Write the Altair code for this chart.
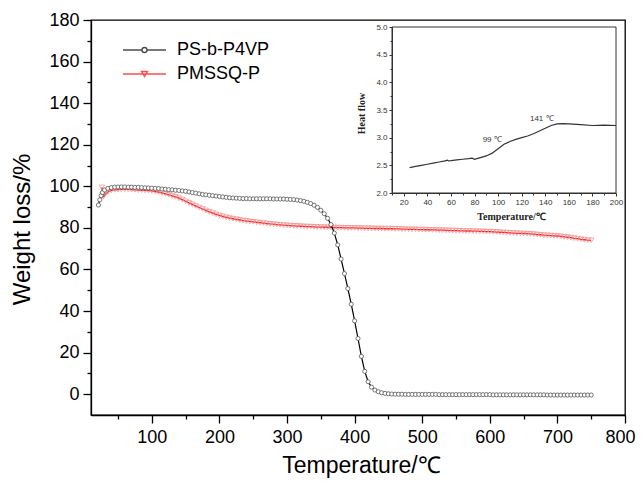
import altair as alt
import pandas as pd

SANS = "Liberation Sans"
SERIF = "Liberation Serif"

series_names = ["PS-b-P4VP", "PMSSQ-P"]
series_colors = ["#000000", "#ff0000"]

# ---- TGA: PS-b-P4VP ----
ps_temp = [21, 23, 25, 27, 30, 35, 40, 45, 50, 55, 60, 65, 70, 75, 80, 85, 90, 95, 100,
           105, 110, 115, 120, 125, 130, 135, 140, 145, 150, 155, 160, 165, 170, 175, 180,
           185, 190, 195, 200, 205, 210, 215, 220, 225, 230, 235, 240, 245, 250, 255, 260,
           265, 270, 275, 280, 285, 290, 295, 300, 305, 310, 315, 320, 325, 330, 335, 340,
           345, 350, 355, 360, 365, 370, 375, 380, 385, 390, 395, 400, 405, 410, 415, 420,
           425, 430, 435, 440, 445, 450, 455, 460, 465, 470, 475, 480, 485, 490, 495, 500,
           505, 510, 515, 520, 525, 530, 535, 540, 545, 550, 555, 560, 565, 570, 575, 580,
           585, 590, 595, 600, 605, 610, 615, 620, 625, 630, 635, 640, 645, 650, 655, 660,
           665, 670, 675, 680, 685, 690, 695, 700, 705, 710, 715, 720, 725, 730, 735, 740,
           745, 750]
ps_weight = [91.0, 93.5, 95.5, 97.0, 98.2, 99.0, 99.4, 99.6, 99.7, 99.7, 99.7, 99.6, 99.6,
             99.5, 99.5, 99.4, 99.3, 99.2, 99.1,
             99.0, 98.9, 98.7, 98.6, 98.4, 98.3, 98.1, 98.0, 97.8, 97.6, 97.3, 97.0, 96.7,
             96.4, 96.1, 95.9,
             95.7, 95.5, 95.3, 95.1, 94.9, 94.7, 94.5, 94.4, 94.3, 94.2, 94.1, 94.1, 94.0,
             94.0, 94.0, 94.0,
             94.0, 94.0, 94.0, 93.9, 93.9, 93.9, 93.9, 93.8, 93.7, 93.6, 93.4, 93.1, 92.8,
             92.3, 91.7, 90.9,
             89.9, 88.5, 86.8, 84.6, 81.6, 77.5, 71.8, 65.0, 58.0, 50.8, 43.3, 35.3, 26.8,
             18.2, 11.0, 6.0,
             3.4, 2.0, 1.2, 0.7, 0.4, 0.2, 0.1, 0.0, 0.0, 0.0, -0.1, -0.1, -0.1, -0.1, -0.1,
             -0.1,
             -0.1, -0.1, -0.1, -0.1, -0.2, -0.2, -0.2, -0.2, -0.2, -0.2, -0.2, -0.2, -0.2,
             -0.2, -0.2, -0.2,
             -0.2, -0.2, -0.2, -0.2, -0.3, -0.3, -0.3, -0.3, -0.3, -0.3, -0.3, -0.3, -0.3,
             -0.3, -0.3, -0.3,
             -0.3, -0.3, -0.3, -0.3, -0.4, -0.4, -0.4, -0.4, -0.4, -0.4, -0.4, -0.4, -0.4,
             -0.4, -0.4, -0.4,
             -0.4, -0.4]

# ---- TGA: PMSSQ-P ----
pm_temp = [26, 27, 28, 30, 35, 40, 45, 50, 55, 60, 65, 70, 75, 80, 85, 90, 95, 100,
           105, 110, 115, 120, 125, 130, 135, 140, 145, 150, 155, 160, 165, 170, 175, 180,
           185, 190, 195, 200, 205, 210, 215, 220, 225, 230, 235, 240, 245, 250, 255, 260,
           265, 270, 275, 280, 285, 290, 295, 300, 305, 310, 315, 320, 325, 330, 335, 340,
           345, 350, 355, 360, 365, 370, 375, 380, 385, 390, 395, 400, 405, 410, 415, 420,
           425, 430, 435, 440, 445, 450, 455, 460, 465, 470, 475, 480, 485, 490, 495, 500,
           505, 510, 515, 520, 525, 530, 535, 540, 545, 550, 555, 560, 565, 570, 575, 580,
           585, 590, 595, 600, 605, 610, 615, 620, 625, 630, 635, 640, 645, 650, 655, 660,
           665, 670, 675, 680, 685, 690, 695, 700, 705, 710, 715, 720, 725, 730, 735, 740,
           745, 750]
pm_weight = [99.5, 96.0, 95.0, 95.8, 97.3, 98.0, 98.3, 98.4, 98.5, 98.5, 98.5, 98.4, 98.3,
             98.2, 98.1, 98.0, 97.9, 97.8,
             97.5, 97.2, 96.8, 96.4, 95.9, 95.4, 94.9, 94.3, 93.6, 92.8, 92.0, 91.3, 90.5,
             89.8, 89.1, 88.4,
             87.7, 87.1, 86.5, 86.0, 85.5, 85.1, 84.7, 84.4, 84.1, 83.8, 83.5, 83.3, 83.1,
             82.9, 82.7, 82.5,
             82.3, 82.1, 81.9, 81.8, 81.6, 81.5, 81.3, 81.2, 81.1, 81.0, 80.9, 80.8, 80.7,
             80.6, 80.6, 80.5,
             80.4, 80.4, 80.3, 80.3, 80.2, 80.2, 80.1, 80.1, 80.0, 80.0, 80.0, 80.0, 79.9,
             79.9, 79.8, 79.8,
             79.8, 79.7, 79.7, 79.7, 79.6, 79.6, 79.6, 79.5, 79.5, 79.4, 79.4, 79.3, 79.3,
             79.3, 79.2, 79.2,
             79.1, 79.1, 79.0, 79.0, 78.9, 78.9, 78.8, 78.8, 78.7, 78.7, 78.6, 78.6, 78.5,
             78.5, 78.4, 78.4,
             78.3, 78.3, 78.2, 78.2, 78.1, 78.0, 77.9, 77.8, 77.7, 77.6, 77.5, 77.4, 77.4,
             77.3, 77.2, 77.1,
             77.0, 76.8, 76.7, 76.5, 76.4, 76.3, 76.2, 76.1, 75.9, 75.7, 75.5, 75.3, 75.0,
             74.8, 74.5, 74.3,
             74.1, 74.0]

# ---- inset DSC ----
dsc_temp = [25, 30, 35, 40, 45, 50, 55, 57, 58, 60, 65, 70, 75, 78, 80, 82, 85, 90, 95,
            100, 105, 110, 115, 120, 125, 130, 135, 140, 145, 150, 155, 160, 170, 180, 190,
            200]
dsc_flow = [2.46, 2.48, 2.50, 2.52, 2.54, 2.56, 2.58, 2.595, 2.58, 2.585, 2.60, 2.61,
            2.62, 2.63, 2.61, 2.62, 2.64, 2.67, 2.72, 2.80, 2.88, 2.93, 2.97, 3.00, 3.03,
            3.07, 3.12, 3.17, 3.22, 3.25, 3.255, 3.25, 3.235, 3.22, 3.225, 3.22]
annot_text = ["99 \u2103", "141 \u2103"]
annot_x = [95, 137]
annot_y = [2.96, 3.33]

# ---- axes values ----
main_x_domain = [10, 800]
main_y_domain = [-10, 180]
x_major = [100, 200, 300, 400, 500, 600, 700, 800]
x_minor = [50, 150, 250, 350, 450, 550, 650, 750]
y_major = [0, 20, 40, 60, 80, 100, 120, 140, 160, 180]
y_minor = [10, 30, 50, 70, 90, 110, 130, 150, 170]

inset_x_domain = [10, 200]
inset_y_domain = [2, 5]
ix_major = [20, 40, 60, 80, 100, 120, 140, 160, 180, 200]
ix_minor = [10, 30, 50, 70, 90, 110, 130, 150, 170, 190]
iy_major = [2.0, 2.5, 3.0, 3.5, 4.0, 4.5, 5.0]
iy_minor = [2.25, 2.75, 3.25, 3.75, 4.25, 4.75]

# layout (pixels inside the plot area)
inset_x_range = [301, 525]
inset_y_range = [173, 7]

ps_df = pd.DataFrame({"t": ps_temp, "w": ps_weight, "series": series_names[0]})
pm_df = pd.DataFrame({"t": pm_temp, "w": pm_weight, "series": series_names[1]})
leg_df = pd.DataFrame({"t": main_x_domain, "w": main_y_domain, "series": series_names})
dsc_df = pd.DataFrame({"t": dsc_temp, "f": dsc_flow})
ann_df = pd.DataFrame({"t": annot_x, "f": annot_y, "label": annot_text})
frame_df = pd.DataFrame({"x0": [inset_x_domain[0]], "x1": [inset_x_domain[1]],
                         "y0": [inset_y_domain[0]], "y1": [inset_y_domain[1]]})

xs = alt.Scale(domain=main_x_domain, nice=False, zero=False)
ys = alt.Scale(domain=main_y_domain, nice=False, zero=False)

common_axis = dict(grid=False, tickColor="black", domainColor="black", tickWidth=1.3,
                   domainWidth=1.3, labelFont=SANS, labelColor="black", titleFont=SANS,
                   titleColor="black", titleFontWeight="normal", labelOverlap=False)

x_major_axis = alt.Axis(orient="bottom", values=x_major, tickSize=8, labelFontSize=18,
                        labelPadding=5, format="d", labelFlush=True, labelFlushOffset=10,
                        title="Temperature/\u2103",
                        titleFontSize=23, titleX=270, titleY=57, titleAlign="center",
                        titleBaseline="alphabetic", **common_axis)
y_major_axis = alt.Axis(orient="left", values=y_major, tickSize=8, labelFontSize=18,
                        labelPadding=4, format="d", labelFlush=False,
                        title="Weight loss/%",
                        titleFontSize=24, titleX=-62, titleY=209, titleAngle=270,
                        titleAlign="center", titleBaseline="alphabetic", **common_axis)
x_minor_axis = alt.Axis(orient="bottom", values=x_minor, tickSize=4, labels=False,
                        domain=False, title="", grid=False, tickColor="black", tickWidth=1.3)
y_minor_axis = alt.Axis(orient="left", values=y_minor, tickSize=4, labels=False,
                        domain=False, title="", grid=False, tickColor="black", tickWidth=1.3)

red_line = alt.Chart(pm_df).mark_line(color="#ff1a1a", strokeWidth=1.3).encode(
    x=alt.X("t:Q", scale=xs, axis=x_major_axis),
    y=alt.Y("w:Q", scale=ys, axis=y_major_axis),
    order="t:Q",
)
red_pts = alt.Chart(pm_df).mark_point(shape="triangle-down", filled=False, color="#f08a8a",
                                      size=30, strokeWidth=0.8, opacity=0.85).encode(
    x=alt.X("t:Q", scale=xs, axis=None),
    y=alt.Y("w:Q", scale=ys, axis=None),
)
black_line = alt.Chart(ps_df).mark_line(color="black", strokeWidth=1.2).encode(
    x=alt.X("t:Q", scale=xs, axis=None),
    y=alt.Y("w:Q", scale=ys, axis=None),
    order="t:Q",
)
black_pts = alt.Chart(ps_df).mark_point(shape="circle", filled=True, fill="white",
                                        stroke="#555555", size=17, strokeWidth=0.8,
                                        opacity=1).encode(
    x=alt.X("t:Q", scale=xs, axis=None),
    y=alt.Y("w:Q", scale=ys, axis=None),
)

# legend symbols: a line with a marker, drawn with a small symbol size so rows stay tight
sym_circle = ("M-7.8,0H-4M-3,0H0.8M-3,0A0.5,0.5,0,1,1,-4,0"
              "A0.5,0.5,0,1,1,-3,0Z")
sym_tri = "M-7.8,0H0.8M-4.1,-0.5L-2.9,-0.5L-3.5,0.5Z"
legend = alt.Legend(title=None, orient="none", legendX=62, legendY=21, symbolSize=100,
                    symbolStrokeWidth=1.4, labelFont=SANS, labelFontSize=18,
                    labelColor="black", labelOffset=6, rowPadding=6, padding=0)
legend_layer = alt.Chart(leg_df).transform_filter("datum.t < 0").mark_point(
    filled=False, strokeWidth=1.4).encode(
    x=alt.X("t:Q", scale=xs, axis=x_minor_axis),
    y=alt.Y("w:Q", scale=ys, axis=y_minor_axis),
    color=alt.Color("series:N", scale=alt.Scale(domain=series_names, range=series_colors),
                    legend=legend),
    shape=alt.Shape("series:N", scale=alt.Scale(domain=series_names,
                                                range=[sym_circle, sym_tri]),
                    legend=legend),
)

main = alt.layer(red_line, red_pts, black_line, black_pts, legend_layer).resolve_axis(
    x="independent", y="independent")

# ---- inset ----
ixs = alt.Scale(domain=inset_x_domain, range=inset_x_range, nice=False, zero=False)
iys = alt.Scale(domain=inset_y_domain, range=inset_y_range, nice=False, zero=False)
inset_common = dict(grid=False, tickColor="#333333", domainColor="#333333", tickWidth=1,
                    domainWidth=1, labelFont=SANS, labelColor="#333333", labelFontSize=8,
                    titleFont=SERIF, titleFontWeight="bold", titleFontSize=10,
                    titleColor="#222222", labelFlush=False, labelOverlap=False)
ix_axis = alt.Axis(orient="bottom", offset=-222, values=ix_major, tickSize=3,
                   labelPadding=2, format="d", title="Temperature/\u2103", titleX=420,
                   titleY=26, titleAlign="center", titleBaseline="alphabetic",
                   **inset_common)
iy_axis = alt.Axis(orient="left", offset=-301, values=iy_major, tickSize=3,
                   labelPadding=2, format=".1f", title="Heat flow", titleX=-28, titleY=93,
                   titleAngle=270, titleAlign="center", titleBaseline="alphabetic",
                   **inset_common)
ix_minor_axis = alt.Axis(orient="bottom", offset=-222, values=ix_minor, tickSize=2,
                         labels=False, domain=False, title="", grid=False,
                         tickColor="#333333", tickWidth=1)
iy_minor_axis = alt.Axis(orient="left", offset=-301, values=iy_minor, tickSize=2,
                         labels=False, domain=False, title="", grid=False,
                         tickColor="#333333", tickWidth=1)

inset_frame = alt.Chart(frame_df).mark_rect(filled=False, stroke="#333333",
                                            strokeWidth=1).encode(
    x=alt.X("x0:Q", scale=ixs, axis=ix_axis),
    x2="x1:Q",
    y=alt.Y("y0:Q", scale=iys, axis=iy_axis),
    y2="y1:Q",
)
inset_line = alt.Chart(dsc_df).mark_line(color="#333333", strokeWidth=1.2).encode(
    x=alt.X("t:Q", scale=ixs, axis=None),
    y=alt.Y("f:Q", scale=iys, axis=None),
    order="t:Q",
)
inset_text = alt.Chart(ann_df).mark_text(font=SANS, fontSize=8, color="#333333").encode(
    x=alt.X("t:Q", scale=ixs, axis=None),
    y=alt.Y("f:Q", scale=iys, axis=None),
    text="label:N",
)
inset_minor = alt.Chart(dsc_df).transform_filter("datum.t < 0").mark_point().encode(
    x=alt.X("t:Q", scale=ixs, axis=ix_minor_axis),
    y=alt.Y("f:Q", scale=iys, axis=iy_minor_axis),
)
inset = alt.layer(inset_frame, inset_line, inset_text, inset_minor).resolve_axis(
    x="independent", y="independent")

chart = alt.layer(main, inset).resolve_scale(
    x="independent", y="independent"
).properties(
    width=534, height=395,
    autosize=alt.AutoSizeParams(type="none"),
    padding={"left": 83, "top": 12, "right": 11, "bottom": 63},
    background="white",
).configure_view(stroke="black", strokeWidth=1.3)

chart.save("out.html", embed_options={"renderer": "svg", "actions": False})
